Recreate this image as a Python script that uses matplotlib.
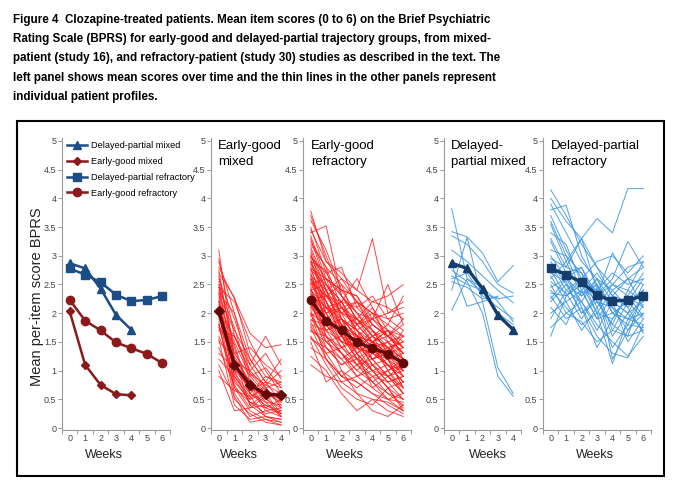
import numpy as np
import matplotlib.pyplot as plt
from matplotlib.patches import Rectangle

# mean per-item BPRS scores by week
weeks6 = [0, 1, 2, 3, 4, 5, 6]
weeks4 = [0, 1, 2, 3, 4]
dp_mixed_mean = [2.87, 2.78, 2.43, 1.97, 1.71]
eg_mixed_mean = [2.03, 1.10, 0.75, 0.59, 0.57]
dp_refr_mean = [2.78, 2.67, 2.54, 2.32, 2.21, 2.23, 2.30]
eg_refr_mean = [2.23, 1.87, 1.70, 1.49, 1.39, 1.29, 1.13]

# individual patient profiles (approximate)
eg_mixed = [
    [3.10, 1.20, 0.80, 0.60, 0.50],
    [2.95, 1.60, 1.00, 0.70, 0.40],
    [2.80, 2.25, 1.65, 1.40, 1.45],
    [2.70, 2.28, 1.30, 0.90, 0.80],
    [2.60, 1.90, 1.10, 1.60, 1.10],
    [2.55, 1.40, 0.60, 0.40, 0.30],
    [2.50, 1.00, 0.70, 0.55, 0.60],
    [2.45, 2.20, 1.50, 1.00, 0.60],
    [2.40, 1.20, 0.40, 0.20, 0.15],
    [2.35, 0.90, 0.55, 0.70, 0.35],
    [2.30, 1.70, 1.20, 0.80, 1.20],
    [2.25, 0.70, 0.30, 0.15, 0.10],
    [2.20, 1.50, 0.90, 1.05, 0.70],
    [2.15, 1.10, 0.75, 0.35, 0.50],
    [2.10, 0.80, 0.50, 0.60, 0.25],
    [2.05, 1.30, 1.40, 1.10, 0.90],
    [2.00, 0.60, 0.20, 0.30, 0.20],
    [1.95, 1.00, 0.85, 0.50, 0.65],
    [1.90, 1.45, 0.65, 0.80, 0.45],
    [1.85, 0.50, 0.25, 0.10, 0.05],
    [1.80, 1.15, 1.00, 1.30, 0.85],
    [1.75, 0.85, 0.45, 0.25, 0.30],
    [1.70, 1.60, 0.95, 0.65, 0.55],
    [1.60, 0.95, 0.60, 0.90, 0.75],
    [1.55, 0.40, 0.15, 0.20, 0.10],
    [1.50, 1.25, 0.80, 0.45, 0.40],
    [1.40, 0.75, 0.35, 0.55, 0.20],
    [1.30, 1.05, 0.70, 0.30, 0.35],
    [1.20, 0.90, 0.50, 0.75, 0.60],
    [1.10, 0.55, 0.10, 0.15, 0.05],
    [1.00, 0.30, 0.35, 0.40, 0.25],
    [0.90, 0.65, 0.55, 0.20, 0.15],
    [2.90, 2.00, 1.20, 0.80, 0.70],
    [2.65, 1.30, 0.90, 0.60, 0.45],
    [2.45, 1.75, 0.80, 0.50, 0.35],
    [2.20, 1.00, 0.40, 0.60, 0.55],
    [2.00, 1.60, 1.10, 0.70, 0.80],
    [1.80, 0.70, 0.45, 0.35, 0.25],
    [2.75, 1.15, 0.60, 0.45, 0.20],
    [2.35, 2.00, 0.95, 0.75, 1.00],
]

eg_refr = [
    [3.78, 2.90, 2.60, 2.20, 2.00, 1.90, 1.70],
    [3.62, 3.10, 2.40, 2.30, 1.80, 1.60, 1.40],
    [3.50, 2.70, 2.80, 2.10, 2.30, 1.90, 2.00],
    [3.40, 3.52, 2.30, 1.90, 1.60, 1.70, 1.20],
    [3.30, 2.50, 2.20, 2.60, 2.10, 1.50, 1.60],
    [3.20, 2.80, 2.10, 1.70, 1.50, 1.30, 0.90],
    [3.10, 2.40, 2.60, 2.40, 3.30, 2.00, 2.10],
    [3.05, 2.20, 1.80, 1.40, 1.30, 1.10, 0.80],
    [3.00, 2.60, 2.40, 2.00, 1.90, 2.50, 1.80],
    [2.95, 2.10, 2.00, 2.20, 1.70, 1.40, 1.50],
    [2.90, 2.75, 1.90, 1.60, 1.20, 0.90, 0.60],
    [2.85, 2.30, 2.50, 1.80, 2.00, 1.80, 2.30],
    [2.80, 2.00, 1.60, 1.50, 1.10, 1.20, 1.00],
    [2.75, 2.50, 2.20, 2.10, 1.80, 1.60, 1.30],
    [2.70, 1.80, 1.40, 1.20, 0.90, 0.80, 0.50],
    [2.65, 2.40, 2.00, 1.90, 2.20, 2.10, 1.90],
    [2.60, 2.20, 1.70, 1.30, 1.50, 1.00, 0.70],
    [2.55, 1.90, 2.10, 1.70, 1.40, 1.50, 1.20],
    [2.50, 2.60, 2.30, 2.00, 1.60, 1.80, 1.60],
    [2.45, 1.60, 1.30, 1.00, 0.80, 0.60, 0.40],
    [2.40, 2.10, 1.80, 1.90, 1.70, 1.30, 1.10],
    [2.35, 2.00, 1.50, 1.40, 1.60, 1.40, 1.50],
    [2.30, 1.70, 1.90, 1.60, 1.30, 1.20, 0.90],
    [2.25, 2.30, 2.00, 1.50, 1.20, 0.90, 1.00],
    [2.20, 1.50, 1.20, 0.90, 1.00, 0.70, 0.30],
    [2.15, 1.90, 1.60, 1.80, 1.50, 1.60, 1.40],
    [2.10, 2.40, 1.70, 1.20, 1.40, 1.10, 0.80],
    [2.05, 1.40, 1.10, 1.30, 0.70, 0.50, 0.60],
    [2.00, 1.80, 1.50, 1.10, 1.20, 1.30, 1.70],
    [1.95, 2.10, 2.20, 1.70, 1.90, 1.70, 1.50],
    [1.90, 1.60, 1.00, 0.80, 0.60, 0.40, 0.25],
    [1.85, 1.30, 1.40, 1.50, 1.10, 0.80, 0.90],
    [1.80, 1.70, 1.30, 1.00, 1.30, 1.50, 1.30],
    [1.75, 1.20, 0.90, 0.70, 0.90, 0.60, 0.50],
    [1.70, 1.50, 1.60, 1.20, 0.80, 1.00, 1.10],
    [1.60, 1.10, 0.70, 0.50, 0.40, 0.70, 0.35],
    [1.55, 1.40, 1.20, 1.40, 1.60, 1.20, 0.70],
    [1.50, 0.80, 1.00, 0.60, 0.50, 0.30, 0.20],
    [1.40, 1.20, 0.80, 0.90, 0.70, 0.90, 0.60],
    [1.25, 1.00, 0.60, 0.30, 0.50, 0.45, 0.30],
    [1.10, 0.90, 0.80, 0.60, 0.30, 0.20, 0.40],
    [2.60, 1.90, 1.50, 1.60, 1.40, 1.00, 1.20],
    [2.90, 2.30, 2.20, 1.80, 1.50, 1.40, 1.00],
    [2.40, 2.50, 2.10, 2.20, 2.00, 1.60, 1.80],
    [3.35, 2.60, 1.90, 1.70, 1.40, 1.20, 0.70],
    [2.20, 1.70, 1.80, 1.30, 1.00, 1.10, 0.90],
    [2.75, 2.20, 1.60, 1.40, 1.70, 1.30, 1.40],
    [2.00, 1.20, 0.90, 1.10, 0.80, 0.50, 0.45],
    [3.70, 3.00, 2.30, 2.00, 1.70, 1.50, 1.10],
    [3.45, 2.90, 2.70, 2.40, 2.20, 2.30, 2.50],
    [3.15, 2.50, 2.00, 1.80, 1.90, 1.60, 1.30],
    [2.98, 2.70, 2.30, 1.90, 1.50, 1.70, 1.60],
    [2.88, 2.40, 1.70, 1.30, 1.00, 0.70, 0.50],
    [2.78, 2.60, 2.40, 2.30, 1.90, 2.00, 2.20],
    [2.68, 2.10, 1.90, 1.40, 1.30, 1.40, 1.10],
    [2.58, 2.30, 2.10, 1.80, 2.10, 1.70, 1.40],
    [2.48, 2.20, 1.60, 1.20, 1.10, 0.80, 0.90],
    [2.38, 1.80, 1.70, 1.50, 1.40, 1.20, 1.30],
    [2.28, 2.00, 2.10, 1.90, 1.60, 1.40, 1.20],
    [2.18, 1.60, 1.40, 1.10, 0.90, 1.00, 0.60],
    [2.08, 1.90, 1.70, 1.60, 1.50, 1.30, 1.60],
    [1.98, 1.50, 1.30, 0.90, 1.10, 0.90, 0.70],
    [1.88, 1.80, 1.90, 1.40, 1.20, 1.40, 1.20],
    [1.78, 1.40, 1.10, 1.20, 1.00, 0.70, 0.80],
    [1.68, 1.60, 1.30, 1.10, 1.40, 1.10, 1.00],
    [1.58, 1.30, 0.90, 0.80, 0.60, 0.50, 0.30],
    [3.25, 2.80, 2.50, 2.20, 1.80, 1.60, 1.90],
    [3.00, 2.40, 1.80, 1.60, 1.50, 1.20, 1.20],
    [2.62, 2.00, 2.20, 1.60, 1.80, 1.60, 1.30],
    [2.52, 2.30, 1.90, 1.70, 1.20, 1.30, 1.00],
    [2.42, 1.90, 1.40, 1.60, 1.30, 1.10, 0.80],
    [2.32, 2.10, 1.60, 1.30, 1.50, 1.70, 1.40],
    [2.12, 1.70, 1.50, 1.40, 1.00, 0.90, 1.10],
]

dp_mixed = [
    [3.82, 2.60, 2.35, 2.25, 2.30],
    [3.42, 3.33, 3.05, 2.55, 2.83],
    [3.35, 3.20, 2.90, 2.50, 2.35],
    [3.10, 2.90, 2.65, 2.40, 2.18],
    [2.40, 3.32, 2.20, 1.05, 0.60],
    [2.75, 2.55, 2.00, 0.90, 0.55],
    [2.05, 2.60, 2.45, 2.20, 1.85],
    [2.55, 2.45, 2.25, 2.28, np.nan],
    [2.85, 2.12, 2.20, 2.30, np.nan],
    [2.65, 2.50, 2.40, 2.00, 1.80],
    [2.60, 2.70, 2.30, 2.10, 1.90],
]

dp_refr = [
    [4.15, 3.70, 3.20, 2.80, 2.50, 2.30, 2.10],
    [4.00, 3.60, 3.30, 3.65, 3.40, 4.17, 4.17],
    [3.90, 3.40, 2.90, 2.60, 2.40, 2.60, 2.50],
    [3.80, 3.88, 3.00, 2.50, 2.10, 1.90, 1.80],
    [3.70, 3.10, 2.60, 2.90, 3.00, 2.70, 3.00],
    [3.55, 2.90, 3.30, 2.40, 2.20, 2.00, 2.20],
    [3.40, 3.20, 2.50, 2.20, 1.80, 1.60, 1.70],
    [3.25, 2.70, 2.80, 2.30, 2.60, 3.25, 2.80],
    [3.10, 3.00, 2.40, 2.70, 2.30, 2.10, 2.40],
    [3.00, 2.60, 2.20, 1.80, 1.50, 1.25, 1.60],
    [2.95, 2.80, 2.70, 2.10, 2.50, 2.40, 2.90],
    [2.90, 2.50, 2.30, 2.60, 2.00, 2.20, 1.90],
    [2.85, 2.40, 2.60, 2.00, 1.12, 1.90, 2.30],
    [2.80, 2.70, 2.10, 1.40, 1.90, 2.30, 2.70],
    [2.75, 2.30, 2.50, 2.40, 2.70, 2.50, 2.60],
    [2.70, 2.55, 2.00, 2.20, 2.10, 1.70, 2.00],
    [2.65, 2.20, 2.40, 1.90, 2.30, 2.60, 2.10],
    [2.60, 2.90, 2.30, 2.50, 2.00, 1.80, 1.75],
    [2.55, 2.35, 1.90, 2.30, 1.60, 2.00, 2.50],
    [2.50, 2.00, 2.20, 1.70, 2.20, 1.50, 1.90],
    [2.45, 2.60, 2.80, 2.20, 1.80, 2.40, 2.20],
    [2.40, 2.10, 1.80, 2.00, 2.40, 2.10, 1.65],
    [2.35, 2.30, 2.60, 2.40, 1.70, 1.60, 2.40],
    [2.30, 1.90, 2.10, 1.60, 1.30, 1.22, 1.80],
    [2.20, 2.50, 2.00, 2.30, 2.50, 2.80, 2.90],
    [2.10, 1.80, 2.40, 1.90, 2.00, 1.90, 2.00],
    [2.00, 2.20, 1.70, 2.10, 1.40, 1.80, 2.30],
    [1.90, 2.40, 2.20, 2.60, 2.20, 2.00, 1.70],
    [1.75, 2.00, 1.85, 1.50, 1.70, 2.20, 2.60],
    [1.60, 2.30, 2.50, 2.00, 1.90, 2.30, 1.95],
    [3.30, 2.80, 3.30, 2.80, 2.30, 2.20, 2.40],
    [2.25, 2.60, 2.35, 2.50, 1.20, 1.70, 2.15],
    [3.60, 3.00, 2.70, 2.30, 3.05, 2.60, 2.80],
]

caption = [
    "Figure 4  Clozapine-treated patients. Mean item scores (0 to 6) on the Brief Psychiatric",
    "Rating Scale (BPRS) for early-good and delayed-partial trajectory groups, from mixed-",
    "patient (study 16), and refractory-patient (study 30) studies as described in the text. The",
    "left panel shows mean scores over time and the thin lines in the other panels represent",
    "individual patient profiles.",
]

NAVY = '#1c4d86'
DRED = '#8c1a1a'
RED = '#ff1a1a'
LBLUE = '#3f97e2'
MAROON = '#650808'
DNAVY = '#143e6c'
GRAY = '#9a9a9a'

plt.rcParams['font.family'] = ['Liberation Sans', 'DejaVu Sans']

W, H = 678, 491
fig = plt.figure(figsize=(W / 100, H / 100), dpi=100)


def add_panel(x0, x1, n):
    ytop, ybot = 138.1, 430.3
    ax = fig.add_axes([x0 / W, 1 - ybot / H, (x1 - x0) / W, (ybot - ytop) / H])
    ax.patch.set_alpha(0)
    ax.set_xlim(-0.5, n + 0.5)
    ax.set_ylim(-0.04, 5.05)
    for s in ['top', 'right']:
        ax.spines[s].set_visible(False)
    for s in ['left', 'bottom']:
        ax.spines[s].set_color(GRAY)
        ax.spines[s].set_linewidth(0.8)
    yt = np.arange(0, 5.01, 0.5)
    ax.set_yticks(yt)
    ax.set_yticklabels(['%g' % v for v in yt])
    ax.set_xticks(range(n + 1))
    ax.set_xticks(np.arange(-0.5, n + 0.6, 1), minor=True)
    ax.tick_params(axis='x', which='major', length=0, pad=3, labelsize=6.5, labelcolor='#444444')
    ax.tick_params(axis='x', which='minor', length=3, color=GRAY, width=0.7)
    ax.tick_params(axis='y', length=3, color=GRAY, width=0.7, labelsize=6.5,
                   labelcolor='#444444', pad=1)
    return ax


# left panel: group means
ax1 = add_panel(62, 170, 6)
ax1.plot(weeks4, dp_mixed_mean, color=NAVY, lw=1.8, marker='^', ms=6, label='Delayed-partial mixed')
ax1.plot(weeks4, eg_mixed_mean, color=DRED, lw=1.8, marker='D', ms=4, label='Early-good mixed')
ax1.plot(weeks6, dp_refr_mean, color=NAVY, lw=1.8, marker='s', ms=6, label='Delayed-partial refractory')
ax1.plot(weeks6, eg_refr_mean, color=DRED, lw=1.8, marker='o', ms=6, label='Early-good refractory')
ax1.legend(loc='upper left', bbox_to_anchor=(67 / W, 1 - 141 / H), bbox_transform=fig.transFigure,
           frameon=False, fontsize=6.6, handlelength=2.2, handletextpad=0.4, labelspacing=0.75,
           borderpad=0, borderaxespad=0)

# individual profiles
ax2 = add_panel(211, 289, 4)
for row in eg_mixed:
    ax2.plot(weeks4, row, color=RED, lw=0.65, alpha=0.85)
ax2.plot(weeks4, eg_mixed_mean, color=MAROON, lw=2.4, marker='D', ms=5)

ax3 = add_panel(303, 411, 6)
for row in eg_refr:
    ax3.plot(weeks6, row, color=RED, lw=0.65, alpha=0.85)
ax3.plot(weeks6, eg_refr_mean, color=MAROON, lw=2.4, marker='o', ms=6)

ax4 = add_panel(444, 521, 4)
for row in dp_mixed:
    ax4.plot(weeks4, row, color=LBLUE, lw=0.7, alpha=0.9)
ax4.plot(weeks4, dp_mixed_mean, color=DNAVY, lw=2.4, marker='^', ms=6)

ax5 = add_panel(543, 651, 6)
for row in dp_refr:
    ax5.plot(weeks6, row, color=LBLUE, lw=0.7, alpha=0.9)
ax5.plot(weeks6, dp_refr_mean, color=DNAVY, lw=2.4, marker='s', ms=6)

titles = [("Early-good\nmixed", 218), ("Early-good\nrefractory", 311),
          ("Delayed-\npartial mixed", 451), ("Delayed-partial\nrefractory", 551)]
for t, x in titles:
    fig.text(x / W, 1 - 140 / H, t, fontsize=9.5, va='top', ha='left', linespacing=1.4)

for x in [104, 239, 345, 488, 595]:
    fig.text(x / W, 1 - 455 / H, 'Weeks', fontsize=9, ha='center', va='center', color='#222222')

fig.text(37 / W, 1 - 297 / H, 'Mean per-item score BPRS', fontsize=10.5, rotation=90,
         ha='center', va='center', color='#222222')

# caption
for i, line in enumerate(caption):
    fig.text(13 / W, 1 - (20 + 19.2 * i) / H, line, fontsize=8.4, fontweight='bold',
             ha='left', va='center')

fig.add_artist(Rectangle((17 / W, 1 - 476 / H), (664 - 17) / W, (476 - 121) / H,
                         transform=fig.transFigure, fill=False, lw=1.5, ec='black'))

fig.savefig('out.png', dpi=100)
